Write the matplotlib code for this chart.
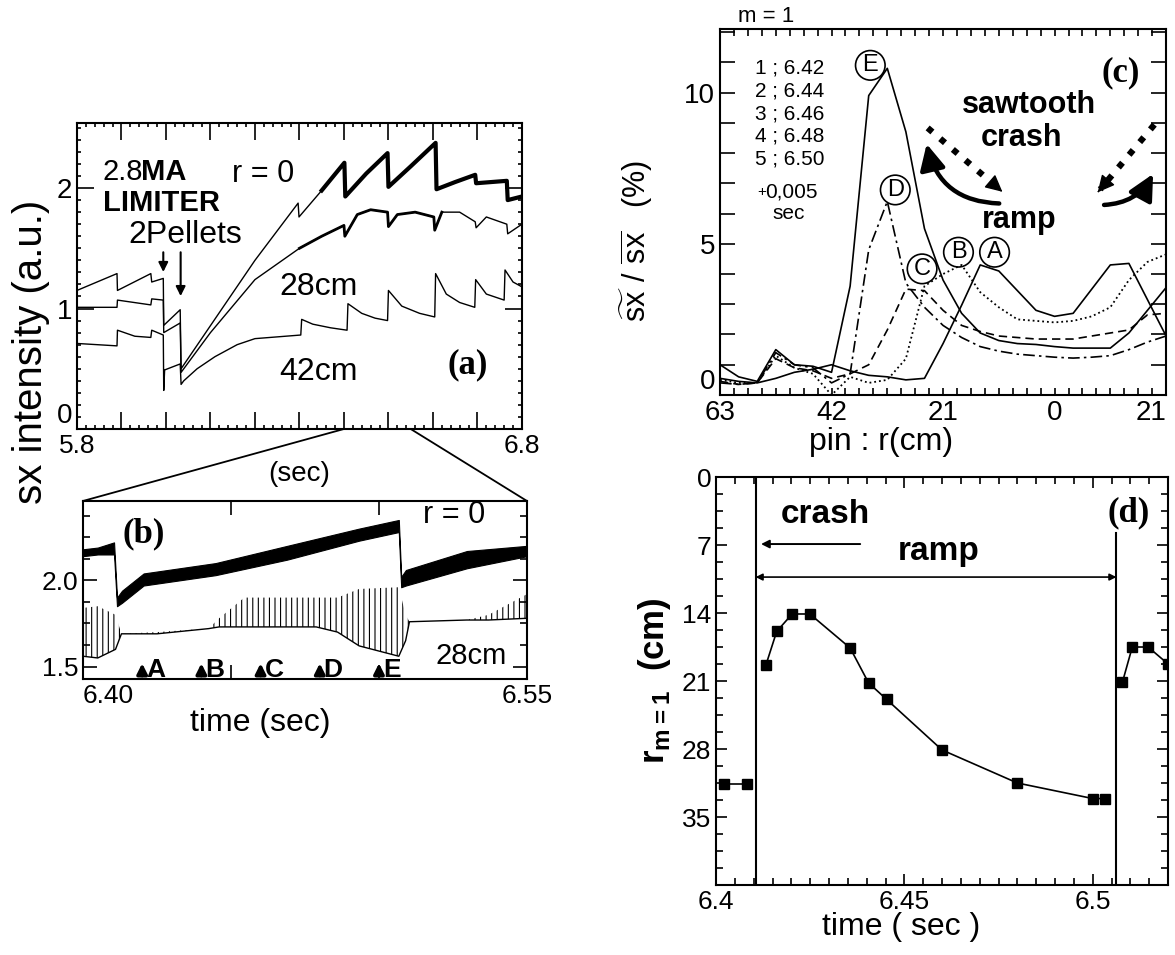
"""
Sawtooth / m=1 mode figure: sx traces (a, b), m=1 profiles (c), r_m=1 vs time (d).
"""

import matplotlib.pyplot as plt
import numpy as np
from matplotlib.patches import ConnectionPatch, FancyArrowPatch
from matplotlib.ticker import MultipleLocator

plt.rcParams['font.family'] = ['Liberation Sans', 'DejaVu Sans']
plt.rcParams['mathtext.fontset'] = 'custom'
plt.rcParams['mathtext.rm'] = 'Liberation Sans'
plt.rcParams['mathtext.bf'] = 'Liberation Sans:bold'
plt.rcParams['hatch.linewidth'] = 0.8
plt.rcParams['axes.linewidth'] = 1.5

SERIF = ['Liberation Serif', 'DejaVu Serif']

# ---- (a) long time traces, 5.8 - 6.8 s ----
a_t_r0 = [5.800, 5.890, 5.891, 5.966, 5.968, 5.994, 5.995, 6.032, 6.034,
          6.200, 6.297, 6.299, 6.350, 6.401, 6.403, 6.450, 6.498, 6.500,
          6.550, 6.606, 6.608, 6.650, 6.695, 6.697, 6.766, 6.768, 6.800]
a_r0 = [1.15, 1.29, 1.15, 1.29, 1.22, 1.25, 0.86, 0.99, 0.50,
        1.40, 1.875, 1.76, 1.98, 2.21, 1.93, 2.12, 2.29, 2.01,
        2.18, 2.375, 1.99, 2.05, 2.11, 2.04, 2.06, 1.90, 1.93]

a_t_28 = [5.800, 5.890, 5.891, 5.966, 5.968, 5.994, 5.995, 6.032, 6.034,
          6.100, 6.200, 6.300, 6.350, 6.400, 6.402, 6.430, 6.460, 6.498,
          6.500, 6.520, 6.560, 6.602, 6.604, 6.620, 6.660, 6.695, 6.697,
          6.720, 6.766, 6.768, 6.800]
a_28 = [1.01, 1.01, 1.07, 1.03, 1.08, 1.07, 0.80, 0.88, 0.47,
        0.80, 1.24, 1.50, 1.60, 1.69, 1.60, 1.78, 1.82, 1.80,
        1.68, 1.78, 1.80, 1.76, 1.65, 1.80, 1.80, 1.72, 1.67,
        1.76, 1.70, 1.62, 1.70]

a_t_42 = [5.800, 5.890, 5.891, 5.930, 5.966, 5.968, 5.994, 5.995, 5.997,
          6.032, 6.034, 6.040, 6.070, 6.110, 6.160, 6.200, 6.303, 6.305,
          6.330, 6.370, 6.407, 6.409, 6.440, 6.470, 6.498, 6.500, 6.530,
          6.570, 6.604, 6.606, 6.630, 6.660, 6.694, 6.696, 6.720, 6.760,
          6.762, 6.780, 6.800]
a_42 = [0.71, 0.69, 0.82, 0.77, 0.76, 0.82, 0.78, 0.32, 0.49,
        0.54, 0.37, 0.40, 0.50, 0.60, 0.70, 0.75, 0.78, 0.91,
        0.87, 0.84, 0.82, 1.04, 0.96, 0.92, 0.90, 1.15, 1.02,
        0.96, 0.93, 1.29, 1.12, 1.05, 1.01, 1.24, 1.12, 1.07,
        1.32, 1.22, 1.18]

# ---- (b) zoomed traces, 6.40 - 6.55 s (envelopes of the oscillating signals) ----
b_t_r0 = [6.400, 6.405, 6.4105, 6.4115, 6.4132, 6.4205, 6.4448, 6.469,
          6.4933, 6.5067, 6.5075, 6.5091, 6.5297, 6.5500]
b_r0_lo = [2.14, 2.15, 2.15, 1.85, 1.87, 1.97, 2.03, 2.12,
           2.23, 2.28, 1.96, 1.97, 2.07, 2.14]
b_r0_hi = [2.18, 2.19, 2.22, 1.90, 1.94, 2.04, 2.10, 2.20,
           2.30, 2.35, 2.02, 2.06, 2.17, 2.20]

b_t_28 = [6.400, 6.405, 6.411, 6.413, 6.425, 6.4424, 6.446, 6.4545, 6.4788,
          6.4860, 6.4933, 6.5067, 6.5090, 6.5103, 6.5297, 6.5370, 6.5500]
b_28_lo = [1.56, 1.55, 1.60, 1.69, 1.69, 1.72, 1.73, 1.73, 1.73,
           1.70, 1.62, 1.56, 1.65, 1.76, 1.77, 1.77, 1.78]
b_28_hi = [1.84, 1.85, 1.80, 1.69, 1.70, 1.72, 1.78, 1.90, 1.90,
           1.90, 1.95, 1.96, 1.80, 1.76, 1.77, 1.80, 1.92]

b_mark_t = [6.42, 6.44, 6.46, 6.48, 6.50]
b_mark_lbl = ['A', 'B', 'C', 'D', 'E']

# ---- (c) m=1 amplitude profiles ----
c_r = [-63, -59.5, -56, -52.5, -49, -45.5, -42, -38.5, -35, -31.5, -28, -24.5,
       -21, -17.5, -14, -10.5, -7, -3.5, 0, 3.5, 7, 10.5, 14, 17.5, 21]
c_A = [0.55, 0.45, 0.40, 0.55, 0.75, 0.85, 1.00, 0.80, 0.65, 0.60, 0.50, 0.55,
       1.70, 2.97, 4.30, 4.10, 3.45, 2.80, 2.60, 2.70, 3.50, 4.30, 4.35, 3.15, 1.95]
c_B = [0.50, 0.40, 0.40, 1.30, 0.90, 0.70, 0.00, 0.60, 0.40, 0.50, 1.20, 3.60,
       4.00, 4.30, 3.40, 2.90, 2.50, 2.45, 2.40, 2.45, 2.60, 2.90, 3.80, 4.40, 4.65]
c_C = [0.45, 0.35, 0.40, 1.20, 0.90, 0.80, 0.55, 0.70, 1.00, 2.15, 3.50, 3.45,
       2.80, 2.30, 2.10, 1.95, 1.90, 1.85, 1.85, 1.85, 1.95, 2.05, 2.15, 2.65, 2.70]
c_D = [0.40, 0.35, 0.40, 1.40, 1.00, 0.90, 0.40, 0.70, 4.80, 6.40, 3.70, 2.90,
       2.30, 1.90, 1.60, 1.45, 1.35, 1.30, 1.25, 1.22, 1.25, 1.30, 1.50, 1.75, 1.95]
c_E = [1.00, 0.60, 0.45, 1.50, 1.00, 0.95, 0.75, 3.60, 9.90, 10.80, 8.70, 5.50,
       3.80, 2.70, 2.05, 1.80, 1.70, 1.67, 1.60, 1.55, 1.55, 1.55, 2.05, 2.80, 3.55]
c_tick_pos = [-63, -42, -21, 0, 21]
c_tick_lbl = ['63', '42', '21', '0', '21']
c_legend = ['1 ; 6.42', '2 ; 6.44', '3 ; 6.46', '4 ; 6.48', '5 ; 6.50']

# ---- (d) r_m=1 versus time ----
d_t_prev = [6.4021, 6.4082]
d_r_prev = [31.6, 31.6]
d_t_main = [6.4132, 6.4161, 6.4202, 6.4249, 6.4356, 6.4405, 6.4453, 6.4600,
            6.4800, 6.5000, 6.5032]
d_r_main = [19.4, 15.9, 14.1, 14.1, 17.6, 21.2, 22.9, 28.1, 31.5, 33.1, 33.1]
d_t_next = [6.5079, 6.5105, 6.5147, 6.5200]
d_r_next = [21.1, 17.5, 17.5, 19.25]
d_crash_t = [6.4105, 6.5063]

fig = plt.figure(figsize=(11.75, 9.55), dpi=100)


def style_ticks(ax, major=9, minor=4):
    ax.tick_params(which='both', direction='in', top=True, right=True,
                   labelsize=19, width=1.2)
    ax.tick_params(which='major', length=major)
    ax.tick_params(which='minor', length=minor)


# ===== (a) =====
ax_a = fig.add_axes([0.0655, 0.5508, 0.3787, 0.3204])
ax_a.plot(a_t_r0, a_r0, color='k', lw=1)
t_r0 = np.array(a_t_r0)
ax_a.plot(t_r0[t_r0 >= 6.30], np.array(a_r0)[t_r0 >= 6.30], color='k', lw=3)
ax_a.plot(a_t_28, a_28, color='k', lw=1)
t_28 = np.array(a_t_28)
sel = (t_28 >= 6.30) & (t_28 <= 6.62)
ax_a.plot(t_28[sel], np.array(a_28)[sel], color='k', lw=2)
ax_a.plot(a_t_42, a_42, color='k', lw=1)
ax_a.set_xlim(5.8, 6.8)
ax_a.set_ylim(0, 2.54)
a_ticks = [5.8 + 0.1 * i for i in range(11)]
ax_a.set_xticks(a_ticks, labels=['5.8'] + [''] * 9 + ['6.8'])
ax_a.set_yticks([0, 1, 2], labels=['0', '1', '2'])
ax_a.xaxis.set_minor_locator(MultipleLocator(0.02))
ax_a.yaxis.set_minor_locator(MultipleLocator(0.1))
style_ticks(ax_a, major=12, minor=3)
ax_a.tick_params(axis='y', labelsize=20)
ax_a.get_yticklabels()[0].set_va('bottom')
ax_a.set_xlabel('(sec)', fontsize=20, labelpad=2)

ax_a.text(5.858, 2.13, '2.8', fontsize=21, va='center')
ax_a.text(5.945, 2.13, 'MA', fontsize=21, fontweight='bold', va='center')
ax_a.text(6.148, 2.12, 'r = 0', fontsize=22, va='center')
ax_a.text(5.859, 1.88, 'LIMITER', fontsize=21, fontweight='bold', va='center')
ax_a.text(5.915, 1.61, '2Pellets', fontsize=23, va='center')
for tp, ybot in zip([5.994, 6.033], [1.28, 1.08]):
    ax_a.annotate('', xy=(tp, ybot), xytext=(tp, 1.49),
                  arrowprops=dict(arrowstyle='-|>', lw=1.5, color='k',
                                  mutation_scale=14))
ax_a.text(6.255, 1.18, '28cm', fontsize=23, va='center')
ax_a.text(6.255, 0.47, '42cm', fontsize=23, va='center')
ax_a.text(6.632, 0.53, '(a)', fontsize=25, fontweight='bold',
          family=SERIF, va='center')

# ===== (b) =====
ax_b = fig.add_axes([0.0706, 0.2890, 0.3779, 0.1864])
ax_b.fill_between(b_t_r0, b_r0_lo, b_r0_hi, color='k', lw=0.8)
ax_b.fill_between(b_t_28, b_28_lo, b_28_hi, facecolor='none', edgecolor='k',
                  hatch='|||', lw=0)
ax_b.plot(b_t_28, b_28_lo, color='k', lw=1)
ax_b.set_xlim(6.40, 6.55)
ax_b.set_ylim(1.428, 2.46)
ax_b.set_xticks([6.40, 6.45, 6.50, 6.55], labels=['6.40', '', '', '6.55'])
ax_b.get_xticklabels()[0].set_ha('left')
ax_b.set_yticks([1.5, 2.0], labels=['1.5', '2.0'])
ax_b.yaxis.set_minor_locator(MultipleLocator(0.125))
style_ticks(ax_b, major=10, minor=5)
ax_b.set_xlabel('time (sec)', fontsize=23, labelpad=0, x=0.40)
for tm, lb in zip(b_mark_t, b_mark_lbl):
    ax_b.annotate('', xy=(tm, 1.535), xytext=(tm, 1.432),
                  arrowprops=dict(arrowstyle='-|>', lw=2.6, color='k',
                                  mutation_scale=15))
    ax_b.text(tm + 0.0013, 1.478, lb, fontsize=19, fontweight='bold',
              va='center', ha='left')
ax_b.text(6.4132, 2.27, '(b)', fontsize=25, fontweight='bold',
          family=SERIF, va='center')
ax_b.text(6.515, 2.376, 'r = 0', fontsize=22, va='center')
ax_b.text(6.519, 1.56, '28cm', fontsize=21, va='center')

for xa, xb in [(6.40, 0.0), (6.55, 1.0)]:
    con = ConnectionPatch(xyA=(xa, 0), coordsA=ax_a.transData,
                          xyB=(xb, 1.0), coordsB=ax_b.transAxes,
                          color='k', lw=1.3)
    fig.add_artist(con)

fig.text(0.026, 1 - 352 / 955, 'sx intensity (a.u.)', rotation=90,
         fontsize=29, ha='center', va='center')

# ===== (c) =====
ax_c = fig.add_axes([0.6128, 0.5864, 0.3796, 0.3832])
ax_c.plot(c_r, c_A, color='k', lw=1.2, ls='-')
ax_c.plot(c_r, c_B, color='k', lw=1.3, ls=':')
ax_c.plot(c_r, c_C, color='k', lw=1.2, ls=(0, (5, 3)))
ax_c.plot(c_r, c_D, color='k', lw=1.2, ls=(0, (7, 2.5, 1.5, 2.5)))
ax_c.plot(c_r, c_E, color='k', lw=1.2, ls='-')
ax_c.set_xlim(-63, 21)
ax_c.set_ylim(0, 12.1)
ax_c.set_xticks(c_tick_pos, labels=c_tick_lbl)
ax_c.set_yticks([0, 5, 10], labels=['0', '5', '10'])
ax_c.xaxis.set_minor_locator(MultipleLocator(21 / 8))
ax_c.yaxis.set_minor_locator(MultipleLocator(1))
style_ticks(ax_c, major=5, minor=5)
ax_c.tick_params(axis='y', which='both', length=11)
ax_c.tick_params(labelsize=20)
ax_c.get_xticklabels()[-1].set_ha('right')
ax_c.get_yticklabels()[0].set_va('bottom')
ax_c.set_xlabel('pin : r(cm)', fontsize=23, labelpad=1, x=0.36)
ax_c.set_ylabel(r'$\widetilde{\rm sx}\ /\ \overline{\rm sx}$   (%)',
                fontsize=22)
ax_c.yaxis.set_label_coords(-0.146, 0.42)
ax_c.text(0.04, 1.005, 'm = 1', transform=ax_c.transAxes, fontsize=16,
          va='bottom')

for i, s in enumerate(c_legend):
    ax_c.text(-56.4, 10.8 - 0.75 * i, s, fontsize=15, va='center')
ax_c.text(-56.0, 6.7, '+', fontsize=11, va='center')
ax_c.text(-54.6, 6.7, '0,005', fontsize=15, va='center')
ax_c.text(-47.0, 6.0, 'sec', fontsize=15, va='center', ha='right')

for lb, (xl, yl) in zip('ABCDE', [(-11.3, 4.72), (-18.1, 4.72), (-24.95, 4.17),
                                  (-30.0, 6.78), (-34.7, 10.9)]):
    ax_c.text(xl, yl, lb, fontsize=17, ha='center', va='center',
              bbox=dict(boxstyle='circle,pad=0.16', fc='none', ec='k', lw=1.2))

ax_c.text(-4.9, 9.6, 'sawtooth', fontsize=22, fontweight='bold',
          ha='center', va='center')
ax_c.text(-6.3, 8.5, 'crash', fontsize=22, fontweight='bold',
          ha='center', va='center')
ax_c.text(-6.6, 5.8, 'ramp', fontsize=22, fontweight='bold',
          ha='center', va='center')
ax_c.text(12.4, 10.66, '(c)', fontsize=25, fontweight='bold', family=SERIF,
          ha='center', va='center')

# dotted "crash" arrows and solid curved "ramp" arrows
for (x0, y0), (x1, y1) in [((-23.9, 8.83), (-10.5, 6.82)),
                           ((18.8, 8.94), (8.6, 6.80))]:
    ax_c.plot([x0, x1], [y0, y1], color='k', ls=':', lw=4.5)
    hx = x1 + (x1 - x0) * 0.08
    hy = y1 + (y1 - y0) * 0.08
    ax_c.annotate('', xy=(hx, hy), xytext=(x1, y1),
                  arrowprops=dict(arrowstyle='-|>', color='k', lw=1,
                                  mutation_scale=26))
for pa, pb, rad in [((-9.9, 6.33), (-24.2, 8.39), -0.4),
                    ((8.8, 6.28), (18.8, 7.39), 0.3)]:
    ax_c.add_patch(FancyArrowPatch(pa, pb, connectionstyle=f'arc3,rad={rad}',
                                   arrowstyle='-|>,head_length=0.7,head_width=0.35',
                                   mutation_scale=22, lw=3.2, color='k'))

# ===== (d) =====
ax_d = fig.add_axes([0.6094, 0.0733, 0.3847, 0.4272])
mk = dict(color='k', lw=1.2, marker='s', ms=7)
ax_d.plot(d_t_prev, d_r_prev, **mk)
ax_d.plot(d_t_main, d_r_main, **mk)
ax_d.plot(d_t_next, d_r_next, **mk)
ax_d.axvline(d_crash_t[0], color='k', lw=1.5)
ax_d.plot([d_crash_t[1], d_crash_t[1]], [5.8, 42], color='k', lw=1.5)
ax_d.set_xlim(6.40, 6.52)
ax_d.set_ylim(42, 0)
ax_d.set_xticks([6.40, 6.45, 6.50], labels=['6.4', '6.45', '6.5'])
ax_d.set_yticks([0, 7, 14, 21, 28, 35])
ax_d.xaxis.set_minor_locator(MultipleLocator(0.005))
ax_d.yaxis.set_minor_locator(MultipleLocator(1.75))
style_ticks(ax_d, major=8, minor=5)
ax_d.tick_params(labelsize=19)
ax_d.set_xlabel('time ( sec )', fontsize=23, labelpad=-1, x=0.41)
ax_d.set_ylabel(r'$\mathbf{r}_{\mathbf{m=1}}$  (cm)', fontsize=25,
                fontweight='bold', labelpad=6)

ax_d.annotate('', xy=(6.4112, 6.9), xytext=(6.439, 6.9),
              arrowprops=dict(arrowstyle='-|>', lw=1.4, color='k',
                              mutation_scale=12))
ax_d.annotate('', xy=(d_crash_t[0], 10.3), xytext=(d_crash_t[1], 10.3),
              arrowprops=dict(arrowstyle='<|-|>', lw=1.2, color='k',
                              mutation_scale=10, shrinkA=0, shrinkB=0))
ax_d.text(6.429, 3.85, 'crash', fontsize=24, fontweight='bold',
          ha='center', va='center')
ax_d.text(6.459, 7.7, 'ramp', fontsize=24, fontweight='bold',
          ha='center', va='center')
ax_d.text(6.5095, 3.7, '(d)', fontsize=25, fontweight='bold', family=SERIF,
          ha='center', va='center')

plt.savefig('out.png', dpi=100)
plt.close()
